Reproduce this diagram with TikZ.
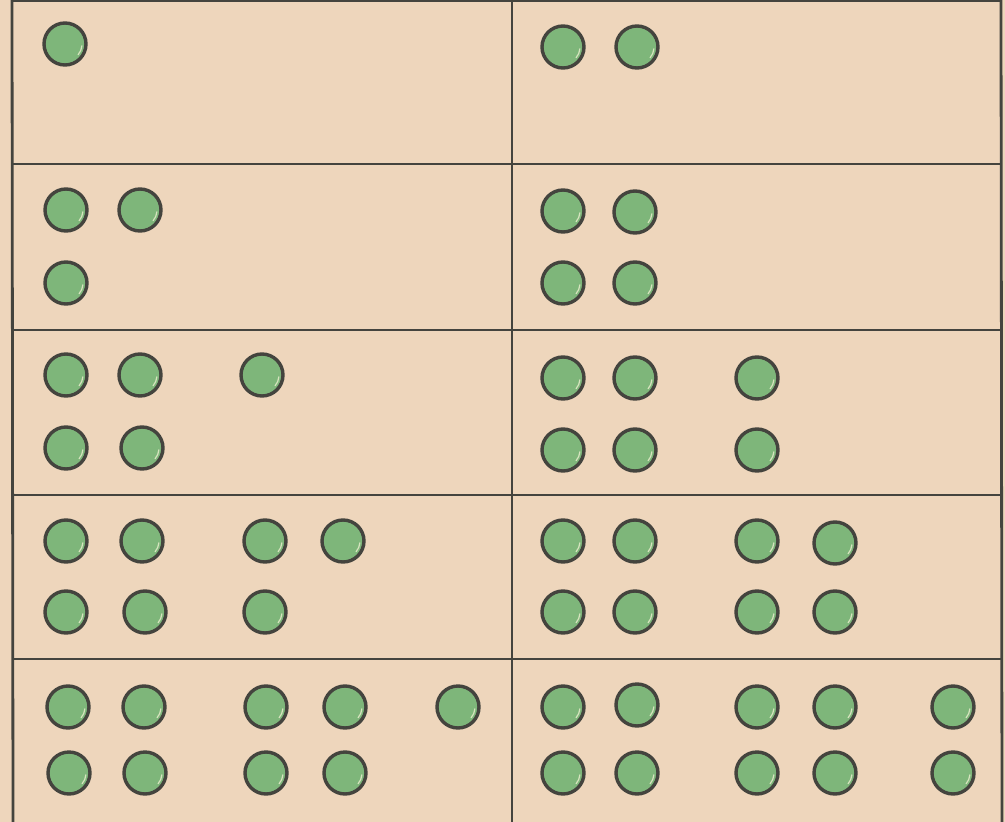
\documentclass[tikz,border=0pt]{standalone}
\definecolor{paper}{RGB}{238,214,188}
\definecolor{ink}{RGB}{68,68,62}
\definecolor{dotgreen}{RGB}{126,182,122}
\definecolor{dotlight}{RGB}{214,228,190}
\tikzset{
  rule/.style={draw=ink, line width=2.8pt},
  dot/.style={circle, draw=ink, line width=3.4pt, fill=dotgreen, minimum size=42pt, inner sep=0pt},
}
\begin{document}
\begin{tikzpicture}[x=1pt,y=-1pt]
\fill[paper] (0,0) rectangle (1005,822);
\useasboundingbox (0,0) rectangle (1005,822);
% grid
\draw[rule] (12,1) -- (1002,1);
\foreach \y in {164,330,495,659} \draw[rule] (12,\y) -- (1002,\y);
\draw[rule] (12,0) -- (13,822);
\draw[rule] (512,0) -- (512,822);
\draw[rule] (1001,0) -- (1002,822);
% dots: name/x/y
\foreach \n/\x/\y in {
  a1/65/44,
  b1/563/47, b2/637/47,
  c1/66/210, c2/140/210, c3/66/283,
  d1/563/211, d2/635/212, d3/563/283, d4/635/283,
  e1/66/375, e2/140/375, e3/262/375, e4/66/448, e5/142/448,
  f1/563/378, f2/635/378, f3/757/378, f4/563/450, f5/635/450, f6/757/450,
  g1/66/541, g2/142/541, g3/265/541, g4/343/541, g5/66/612, g6/145/612, g7/265/612,
  h1/563/541, h2/635/541, h3/757/541, h4/835/543, h5/563/612, h6/635/612, h7/757/612, h8/835/612,
  i1/68/707, i2/144/707, i3/266/707, i4/345/707, i5/458/707, i6/69/773, i7/145/773, i8/266/773, i9/345/773,
  j1/563/707, j2/637/705, j3/757/707, j4/835/707, j5/953/707, j6/563/773, j7/637/773, j8/757/773, j9/835/773, j10/953/773}
{
  \node[dot] (\n) at (\x,\y) {};
  \draw[dotlight, line width=1.2pt] ([shift={(-40:17pt)}]\n.center) arc (-40:-5:17pt);
}
\end{tikzpicture}
\end{document}
